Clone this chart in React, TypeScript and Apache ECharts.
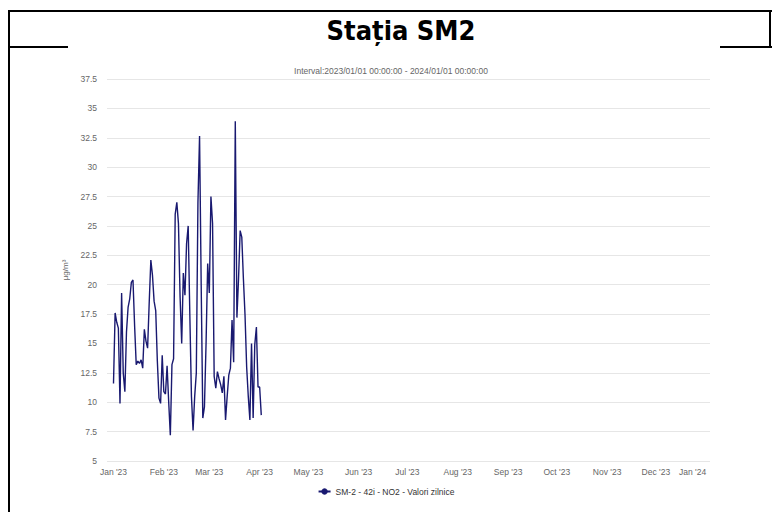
import React, { useEffect, useRef } from "react";
import * as echarts from "echarts";

const titleText = "Stația SM2";
const subtitleText = "Interval:2023/01/01 00:00:00 - 2024/01/01 00:00:00";
const seriesName = "SM-2 - 42i - NO2 - Valori zilnice";
const yAxisName = "µg/m³";

// daily values starting 2023-01-01
const startYear = 2023;
const no2Values = [
  11.6, 17.6, 16.8, 16.3, 9.9, 19.3, 12.5, 10.9, 16.0, 18.1,
  18.8, 20.2, 20.4, 16.5, 13.2, 13.5, 13.3, 13.6, 12.9, 16.2,
  15.2, 14.6, 18.5, 22.1, 20.8, 18.6, 17.8, 13.5, 10.35, 9.9,
  14.0, 10.9, 10.7, 13.1, 10.0, 7.2, 13.2, 13.7, 26.0, 27.0,
  25.2, 19.0, 15.0, 21.0, 19.1, 23.5, 25.0, 17.5, 10.5, 7.6,
  10.5, 12.5, 27.0, 32.65, 20.0, 8.65, 9.6, 15.0, 21.8, 19.3,
  27.5, 25.2, 12.2, 11.2, 12.6, 12.0, 11.5, 10.8, 12.2, 8.5,
  10.5, 12.3, 12.9, 17.0, 13.4, 33.9, 17.2, 20.5, 24.6, 24.05,
  20.5, 17.4, 13.0, 10.5, 8.5, 15.0, 8.65, 14.9, 16.4, 11.3,
  11.3, 8.9,
];

const monthNames = ["Jan", "Feb", "Mar", "Apr", "May", "Jun", "Jul", "Aug", "Sep", "Oct", "Nov", "Dec"];
const monthTickOffsets = [0, 1, 2, 3, 4, 5, 6, 7, 8, 9, 10, 11, 12];

const yMin = 5;
const yMax = 37.5;
const yStep = 2.5;

export default function App() {
  const ref = useRef<HTMLDivElement>(null);

  useEffect(() => {
    if (!ref.current) return;
    const chart = echarts.init(ref.current, undefined, { renderer: "svg" });
    const data = no2Values.map((v, i) => [new Date(startYear, 0, 1 + i).getTime(), v]);
    const ticks = monthTickOffsets.map((m) => new Date(startYear, m, 1).getTime());
    const font = "'Liberation Sans', Arial, sans-serif";
    chart.setOption({
      animation: false,
      title: [
        {
          text: titleText,
          left: 396,
          textAlign: "center",
          top: 12,
          textStyle: {
            fontFamily: "'DejaVu Sans Condensed', 'DejaVu Sans', sans-serif",
            fontWeight: "bold",
            fontSize: 27,
            color: "#000",
          },
        },
        {
          text: subtitleText,
          left: 386,
          textAlign: "center",
          top: 61,
          textStyle: { fontFamily: font, fontWeight: "normal", fontSize: 8.5, color: "#666" },
        },
      ],
      legend: {
        bottom: 11,
        left: "center",
        itemWidth: 12,
        itemHeight: 8,
        itemGap: 10,
        textStyle: { fontFamily: font, fontSize: 8.5, color: "#333" },
        data: [seriesName],
      },
      grid: { left: 107, right: 62, top: 79, bottom: 51, containLabel: false },
      xAxis: {
        type: "value",
        min: new Date(2022, 11, 28).getTime(),
        max: new Date(2024, 0, 3, 8).getTime(),
        axisLine: { show: false },
        axisTick: { show: false },
        splitLine: { show: false },
        axisLabel: {
          customValues: ticks,
          color: "#666",
          fontFamily: font,
          fontSize: 8.5,
          margin: 6,
          alignMaxLabel: "right",
          formatter: (val: number) => {
            const d = new Date(val);
            return monthNames[d.getMonth()] + " '" + String(d.getFullYear()).slice(2);
          },
        },
      },
      yAxis: {
        type: "value",
        min: yMin,
        max: yMax,
        interval: yStep,
        name: yAxisName,
        nameLocation: "middle",
        nameGap: 29,
        nameTextStyle: { fontFamily: font, fontSize: 8, color: "#666" },
        axisLine: { show: false },
        axisTick: { show: false },
        splitLine: { lineStyle: { color: "#e6e6e6", width: 1 } },
        axisLabel: { color: "#666", fontFamily: font, fontSize: 8.5, margin: 10 },
      },
      series: [
        {
          name: seriesName,
          type: "line",
          data,
          symbol: "circle",
          symbolSize: 5,
          showSymbol: false,
          lineStyle: { color: "#191970", width: 1.4 },
          itemStyle: { color: "#191970" },
        },
      ],
    });
    return () => chart.dispose();
  }, []);

  const line = (s: React.CSSProperties): React.CSSProperties => ({ position: "absolute", background: "#000", ...s });

  return (
    <div style={{ position: "fixed", left: 0, top: 0, width: 772, height: 512, background: "#fff", overflow: "hidden" }}>
      <div style={line({ left: 8, top: 10, width: 764, height: 2 })} />
      <div style={line({ left: 8, top: 10, width: 2, height: 502 })} />
      <div style={line({ left: 769, top: 10, width: 2, height: 38 })} />
      <div style={line({ left: 8, top: 46, width: 60, height: 2 })} />
      <div style={line({ left: 720, top: 46, width: 52, height: 2 })} />
      <div ref={ref} style={{ position: "absolute", left: 0, top: 0, width: 772, height: 512 }} />
    </div>
  );
}
